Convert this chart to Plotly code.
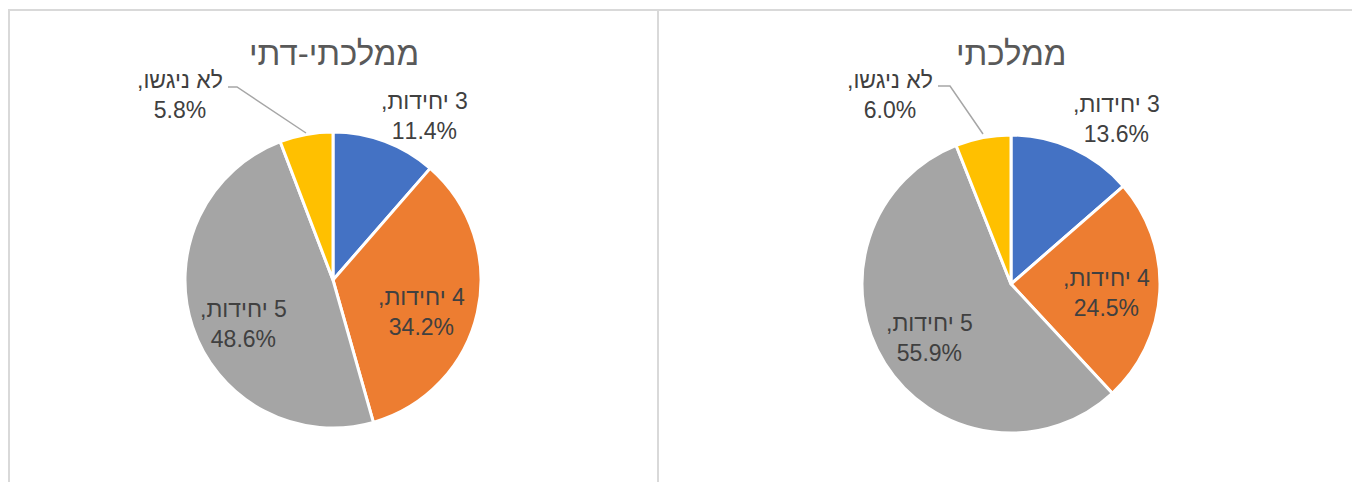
import plotly.graph_objects as go

# data
categories = ["3 יחידות", "4 יחידות", "5 יחידות", "לא ניגשו"]
religious_values = [11.4, 34.2, 48.6, 5.8]      # ממלכתי-דתי
state_values = [13.6, 24.5, 55.9, 6.0]          # ממלכתי
panel_titles = ["ממלכתי-דתי", "ממלכתי"]

COLORS = ["#4472C4", "#ED7D31", "#A5A5A5", "#FFC000"]
W, H = 1360, 482
OFF = 8  # page body margin that the html adds around the figure
RLM = "\u200f"


def px(x):
    return (x - OFF) / W


def py(y):
    return 1 - (y - OFF) / H


def label_text(cat, val):
    # RLM marks so the comma / digit order renders right-to-left
    return f"{RLM}{cat},{RLM}<br>{val:.1f}%"


# pixel geometry of the two panels: pie box, title and label anchors
panels = [
    dict(values=religious_values, title=panel_titles[0],
         box=(185, 132, 481, 428), title_xy=(334, 53),
         label_xy=[(424, 116), (422, 312), (243, 324), (180, 95)],
         leader=[(228, 87), (237, 87), (306, 133)]),
    dict(values=state_values, title=panel_titles[1],
         box=(862, 135, 1160, 433), title_xy=(1011, 53),
         label_xy=[(1116, 119), (1106, 293), (929, 338), (890, 95)],
         leader=[(938, 86), (950, 86), (983, 134)]),
]

fig = go.Figure()
annotations = []
shapes = []

# panel frames
shapes.append(dict(type="rect", xref="paper", yref="paper",
                   x0=px(9), x1=px(658), y0=-0.2, y1=py(10),
                   line=dict(color="#D9D9D9", width=2), layer="below"))
shapes.append(dict(type="rect", xref="paper", yref="paper",
                   x0=px(658), x1=1.2, y0=-0.2, y1=py(10),
                   line=dict(color="#D9D9D9", width=2), layer="below"))

for p in panels:
    x0, y0, x1, y1 = p["box"]
    fig.add_trace(go.Pie(
        labels=categories,
        values=p["values"],
        sort=False,
        direction="clockwise",
        rotation=0,
        marker=dict(colors=COLORS, line=dict(color="white", width=3)),
        textinfo="none",
        showlegend=False,
        domain=dict(x=[px(x0), px(x1)], y=[py(y1), py(y0)]),
    ))
    annotations.append(dict(
        text=p["title"], x=px(p["title_xy"][0]), y=py(p["title_xy"][1]),
        xref="paper", yref="paper", showarrow=False,
        xanchor="center", yanchor="middle",
        font=dict(family="Liberation Sans, Arial", size=33, color="#595959"),
    ))
    for cat, val, (lx, ly) in zip(categories, p["values"], p["label_xy"]):
        annotations.append(dict(
            text=label_text(cat, val), x=px(lx), y=py(ly),
            xref="paper", yref="paper", showarrow=False,
            xanchor="center", yanchor="middle", align="center",
            font=dict(family="Liberation Sans, Arial", size=23, color="#404040"),
        ))
    path = "M " + " L ".join(f"{px(a)},{py(b)}" for a, b in p["leader"])
    shapes.append(dict(type="path", xref="paper", yref="paper", path=path,
                       line=dict(color="#A6A6A6", width=1.5)))

fig.update_layout(
    width=W, height=H,
    margin=dict(l=0, r=0, t=0, b=0),
    paper_bgcolor="white",
    plot_bgcolor="white",
    annotations=annotations,
    shapes=shapes,
)

fig.write_html("out.html")
